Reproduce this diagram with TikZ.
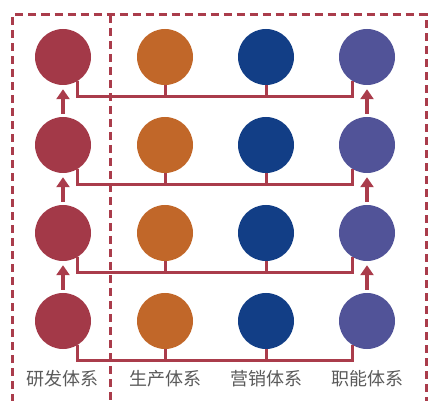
\documentclass[tikz,border=0pt]{standalone}
\usepackage{fontspec}
\usepackage{tikz}
\usetikzlibrary{arrows.meta}
\newfontfamily\cjk{Noto Sans CJK SC}
\definecolor{rdred}{RGB}{163,57,72}
\definecolor{scorange}{RGB}{193,103,41}
\definecolor{mkblue}{RGB}{18,62,134}
\definecolor{fnpurple}{RGB}{81,83,152}
\definecolor{linered}{RGB}{170,60,75}
\definecolor{labelgray}{RGB}{90,90,90}

\begin{document}
\begin{tikzpicture}[
    x=1pt, y=-1pt,
    main node/.style={circle, draw=none, minimum size=56pt, inner sep=0pt},
    link/.style={draw=linered, line width=3pt},
    up arrow/.style={draw=linered, fill=linered, line width=4pt, -{Triangle[width=13pt,length=10pt]}, shorten <=3pt, shorten >=4pt},
    group box/.style={draw=linered, line width=3pt, dash pattern=on 8pt off 5pt},
    label text/.style={text=labelgray, font=\cjk\fontsize{18}{20}\selectfont},
    ]
  \useasboundingbox (0,0) rectangle (429,401);
  \def\D{88}

  % 研发 / 生产 / 营销 / 职能
  \node[main node, fill=rdred] (a1) at (63,57) {};
  \node[main node, fill=scorange] (b1) at (165,57) {};
  \node[main node, fill=mkblue] (c1) at (266,57) {};
  \node[main node, fill=fnpurple] (d1) at (367,57) {};

  \path (a1) ++(0,\D) node[main node, fill=rdred] (a2) {};
  \path (b1) ++(0,\D) node[main node, fill=scorange] (b2) {};
  \path (c1) ++(0,\D) node[main node, fill=mkblue] (c2) {};
  \path (d1) ++(0,\D) node[main node, fill=fnpurple] (d2) {};

  \path (a2) ++(0,\D) node[main node, fill=rdred] (a3) {};
  \path (b2) ++(0,\D) node[main node, fill=scorange] (b3) {};
  \path (c2) ++(0,\D) node[main node, fill=mkblue] (c3) {};
  \path (d2) ++(0,\D) node[main node, fill=fnpurple] (d3) {};

  \path (a3) ++(0,\D) node[main node, fill=rdred] (a4) {};
  \path (b3) ++(0,\D) node[main node, fill=scorange] (b4) {};
  \path (c3) ++(0,\D) node[main node, fill=mkblue] (c4) {};
  \path (d3) ++(0,\D) node[main node, fill=fnpurple] (d4) {};

  \node[label text] (t1) at (63,379) {研发体系};
  \node[label text] (t2) at (165,379) {生产体系};
  \node[label text] (t3) at (266,379) {营销体系};
  \node[label text] (t4) at (367,379) {职能体系};

  % 每一层的连线
  \coordinate (l1) at ([yshift=-16pt]d1.238);
  \coordinate (l2) at ([yshift=-16pt]d2.238);
  \coordinate (l3) at ([yshift=-16pt]d3.238);
  \coordinate (l4) at ([yshift=-16pt]d4.238);

  \draw[link] (a1.-58) |- (l1) -- (d1.238);
  \draw[link] (b1.south) -- (b1.south |- l1);
  \draw[link] (c1.south) -- (c1.south |- l1);

  \draw[link] (a2.-58) |- (l2) -- (d2.238);
  \draw[link] (b2.south) -- (b2.south |- l2);
  \draw[link] (c2.south) -- (c2.south |- l2);

  \draw[link] (a3.-58) |- (l3) -- (d3.238);
  \draw[link] (b3.south) -- (b3.south |- l3);
  \draw[link] (c3.south) -- (c3.south |- l3);

  \draw[link] (a4.-58) |- (l4) -- (d4.238);
  \draw[link] (b4.south) -- (b4.south |- l4);
  \draw[link] (c4.south) -- (c4.south |- l4);

  % 向上的箭头
  \draw[up arrow] (a2.north) -- (a1.south);
  \draw[up arrow] (a3.north) -- (a2.south);
  \draw[up arrow] (a4.north) -- (a3.south);
  \draw[up arrow] (d2.north) -- (d1.south);
  \draw[up arrow] (d3.north) -- (d2.south);
  \draw[up arrow] (d4.north) -- (d3.south);

  % 虚线框
  \draw[group box] (12.5,415) -- (12.5,15) -- (426,15) -- (426,415);
  \draw[group box] (110,15) -- (110,415);
\end{tikzpicture}
\end{document}
